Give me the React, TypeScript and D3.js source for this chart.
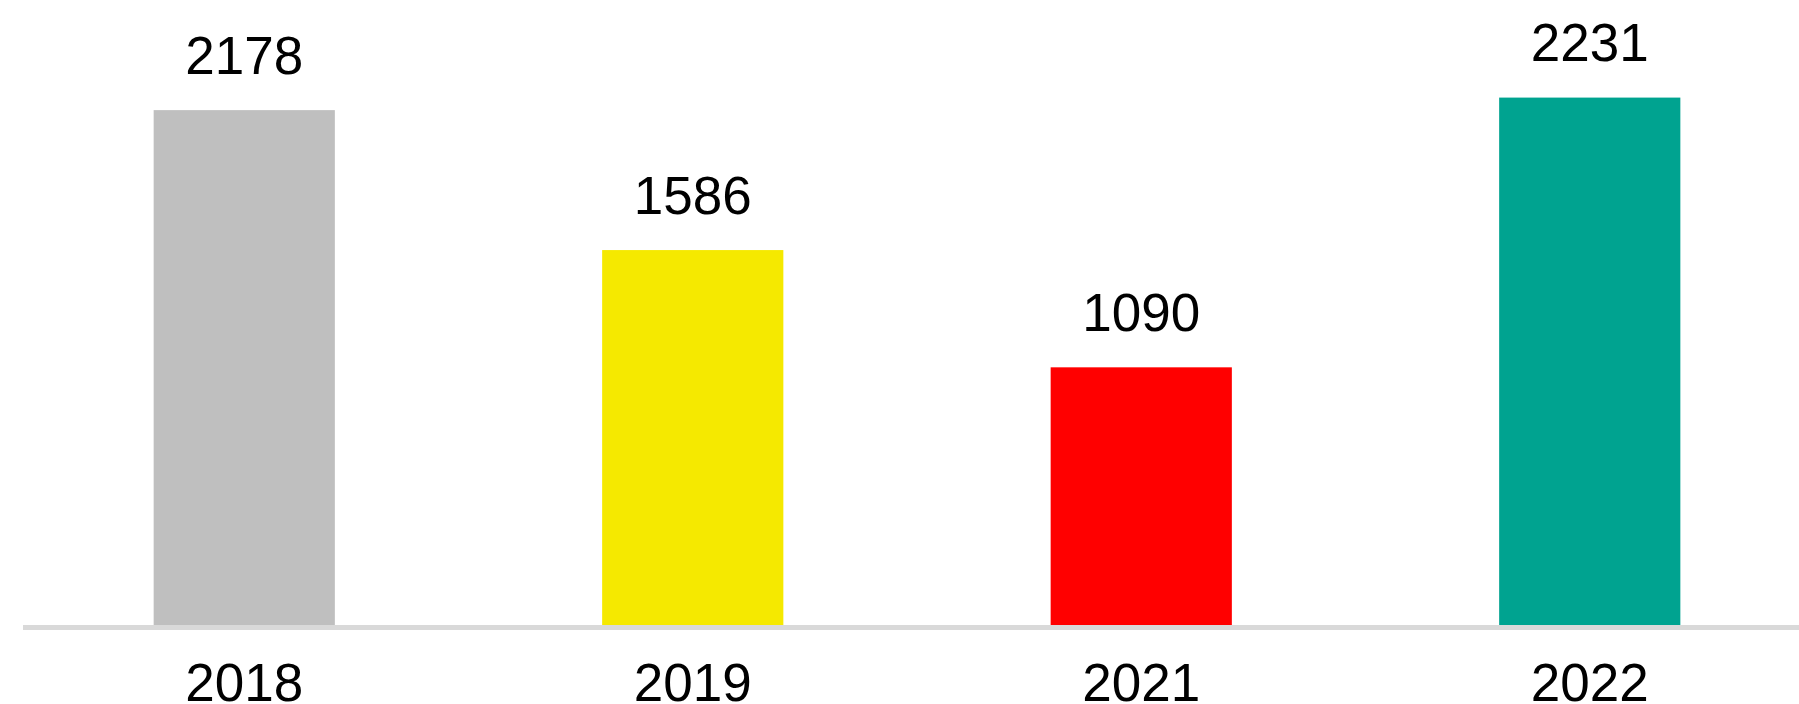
import React from "react";
import * as d3 from "d3";

const categories = ["2018", "2019", "2021", "2022"];
const values = [2178, 1586, 1090, 2231];
const colors = ["#bfbfbf", "#f5e900", "#ff0000", "#00a390"];

const W = 1799;
const H = 704;

export default function App() {
  const x = d3
    .scaleBand<string>()
    .domain(categories)
    .range([20, 1814])
    .paddingInner(0.596)
    .paddingOuter(0.298);
  const y = d3.scaleLinear().domain([0, 2500]).range([625, 34]);
  const font = "'Liberation Sans', Arial, sans-serif";
  return (
    <svg
      width={W}
      height={H}
      style={{ position: "absolute", left: 0, top: 0, background: "#fff" }}
    >
      {categories.map((c, i) => (
        <g key={c}>
          <rect
            x={x(c)!}
            y={y(values[i])}
            width={x.bandwidth()}
            height={y(0) - y(values[i])}
            fill={colors[i]}
          />
          <text
            x={x(c)! + x.bandwidth() / 2}
            y={y(values[i]) - 36.5}
            textAnchor="middle"
            fontFamily={font}
            fontSize={53}
            fill="#000"
          >
            {values[i]}
          </text>
          <text
            x={x(c)! + x.bandwidth() / 2}
            y={701}
            textAnchor="middle"
            fontFamily={font}
            fontSize={53}
            fill="#000"
          >
            {c}
          </text>
        </g>
      ))}
      <line x1={23} x2={W} y1={627.5} y2={627.5} stroke="#d9d9d9" strokeWidth={5} />
    </svg>
  );
}
